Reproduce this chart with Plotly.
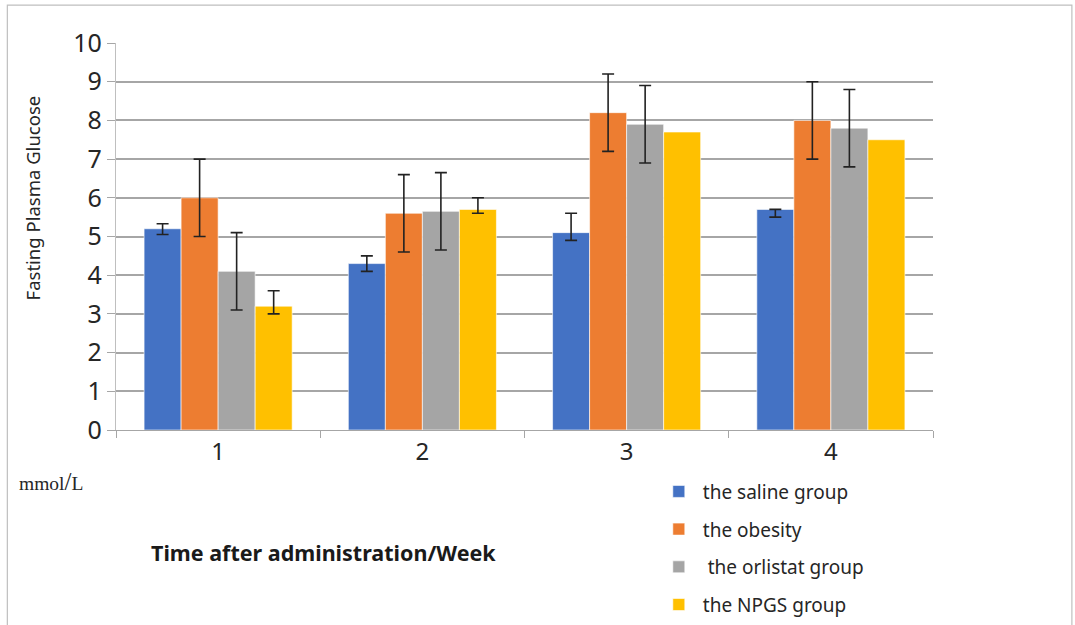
import plotly.graph_objects as go

# Fasting plasma glucose (mmol/L) by week after administration
weeks = ["1", "2", "3", "4"]
groups = ["the saline group", "the obesity", " the orlistat group", "the NPGS group"]
colors = ["#4472C4", "#ED7D31", "#A5A5A5", "#FFC000"]

saline = [5.2, 4.3, 5.1, 5.7]
obesity = [6.0, 5.6, 8.2, 8.0]
orlistat = [4.1, 5.65, 7.9, 7.8]
npgs = [3.2, 5.7, 7.7, 7.5]

# error bar extents (upper / lower)
saline_up = [0.13, 0.2, 0.5, 0.0]
saline_dn = [0.15, 0.2, 0.2, 0.2]
obesity_up = [1.0, 1.0, 1.0, 1.0]
obesity_dn = [1.0, 1.0, 1.0, 1.0]
orlistat_up = [1.0, 1.0, 1.0, 1.0]
orlistat_dn = [1.0, 1.0, 1.0, 1.0]
npgs_up = [0.4, 0.3]   # weeks 1-2 only; weeks 3-4 have no error bars
npgs_dn = [0.2, 0.1]

y_ticks = list(range(0, 11))

font_family = "Noto Sans, Open Sans, sans-serif"
err_style = dict(color="#222222", thickness=1.6, width=6)
bar_line = dict(color="rgba(255,255,255,0.6)", width=1)

fig = go.Figure()
series = [
    (saline, saline_up, saline_dn),
    (obesity, obesity_up, obesity_dn),
    (orlistat, orlistat_up, orlistat_dn),
]
for i, (vals, up, dn) in enumerate(series):
    fig.add_trace(go.Bar(
        x=weeks, y=vals, name=groups[i], offsetgroup=str(i), legendgroup=str(i),
        marker=dict(color=colors[i], line=bar_line),
        error_y=dict(type="data", symmetric=False, array=up, arrayminus=dn, **err_style),
    ))

n_err = len(npgs_up)
fig.add_trace(go.Bar(
    x=weeks[:n_err], y=npgs[:n_err], name=groups[3], offsetgroup="3", legendgroup="3",
    marker=dict(color=colors[3], line=bar_line),
    error_y=dict(type="data", symmetric=False, array=npgs_up, arrayminus=npgs_dn, **err_style),
))
fig.add_trace(go.Bar(
    x=weeks[n_err:], y=npgs[n_err:], name=groups[3], offsetgroup="3", legendgroup="3",
    showlegend=False, marker=dict(color=colors[3], line=bar_line),
))

fig.update_layout(
    width=1075, height=625,
    margin=dict(l=116, r=142, t=43, b=195, autoexpand=False),
    paper_bgcolor="white", plot_bgcolor="white",
    barmode="group", bargap=0.275, bargroupgap=0,
    font=dict(family=font_family, color="#262626"),
    showlegend=True,
    legend=dict(
        x=0.6595, y=-0.11, xref="paper", yref="paper", xanchor="left", yanchor="top",
        font=dict(size=19, color="#262626", family=font_family),
        tracegroupgap=10, itemwidth=38,
        bgcolor="rgba(0,0,0,0)",
    ),
    xaxis=dict(
        type="category", range=[-0.5, 3.5],
        showline=True, linecolor="#a6a6a6", linewidth=1.2,
        ticks="outside", tickson="boundaries", ticklen=7, tickcolor="#a6a6a6",
        tickfont=dict(size=24, color="#262626"),
        showgrid=False,
    ),
    yaxis=dict(
        range=[0, 10], tickvals=y_ticks,
        showline=True, linecolor="#bfbfbf", linewidth=1.2,
        ticks="outside", ticklen=8, tickcolor="#a6a6a6",
        showgrid=True, gridcolor="#a6a6a6", gridwidth=1.6,
        zeroline=False,
        tickfont=dict(size=25, color="#262626"),
    ),
)

# Vertical axis title, set higher than the plot centre
fig.add_annotation(
    text="Fasting Plasma Glucose", xref="paper", yref="paper",
    x=-0.102, y=0.6, xanchor="center", yanchor="middle", textangle=-90,
    showarrow=False, font=dict(size=18.5, color="#262626"),
)
fig.add_annotation(
    text="mmol<span style='font-size:25px'>/</span>L", xref="paper", yref="paper",
    x=-0.121, y=-0.134, xanchor="left", yanchor="middle", showarrow=False,
    font=dict(family="Liberation Serif, serif", size=19.5, color="#262626"),
)
fig.add_annotation(
    text="<b>Time after administration/Week</b>", xref="paper", yref="paper",
    x=0.04, y=-0.317, xanchor="left", yanchor="middle", showarrow=False,
    font=dict(size=21.5, color="#1a1a1a"),
)

# Outer frame
fig.add_shape(
    type="rect", xref="paper", yref="paper",
    x0=-0.133, x1=1.17, y0=-0.6, y1=1.098,
    line=dict(color="#bfbfbf", width=1.2), fillcolor="rgba(0,0,0,0)", layer="below",
)

fig.write_html("out.html")
